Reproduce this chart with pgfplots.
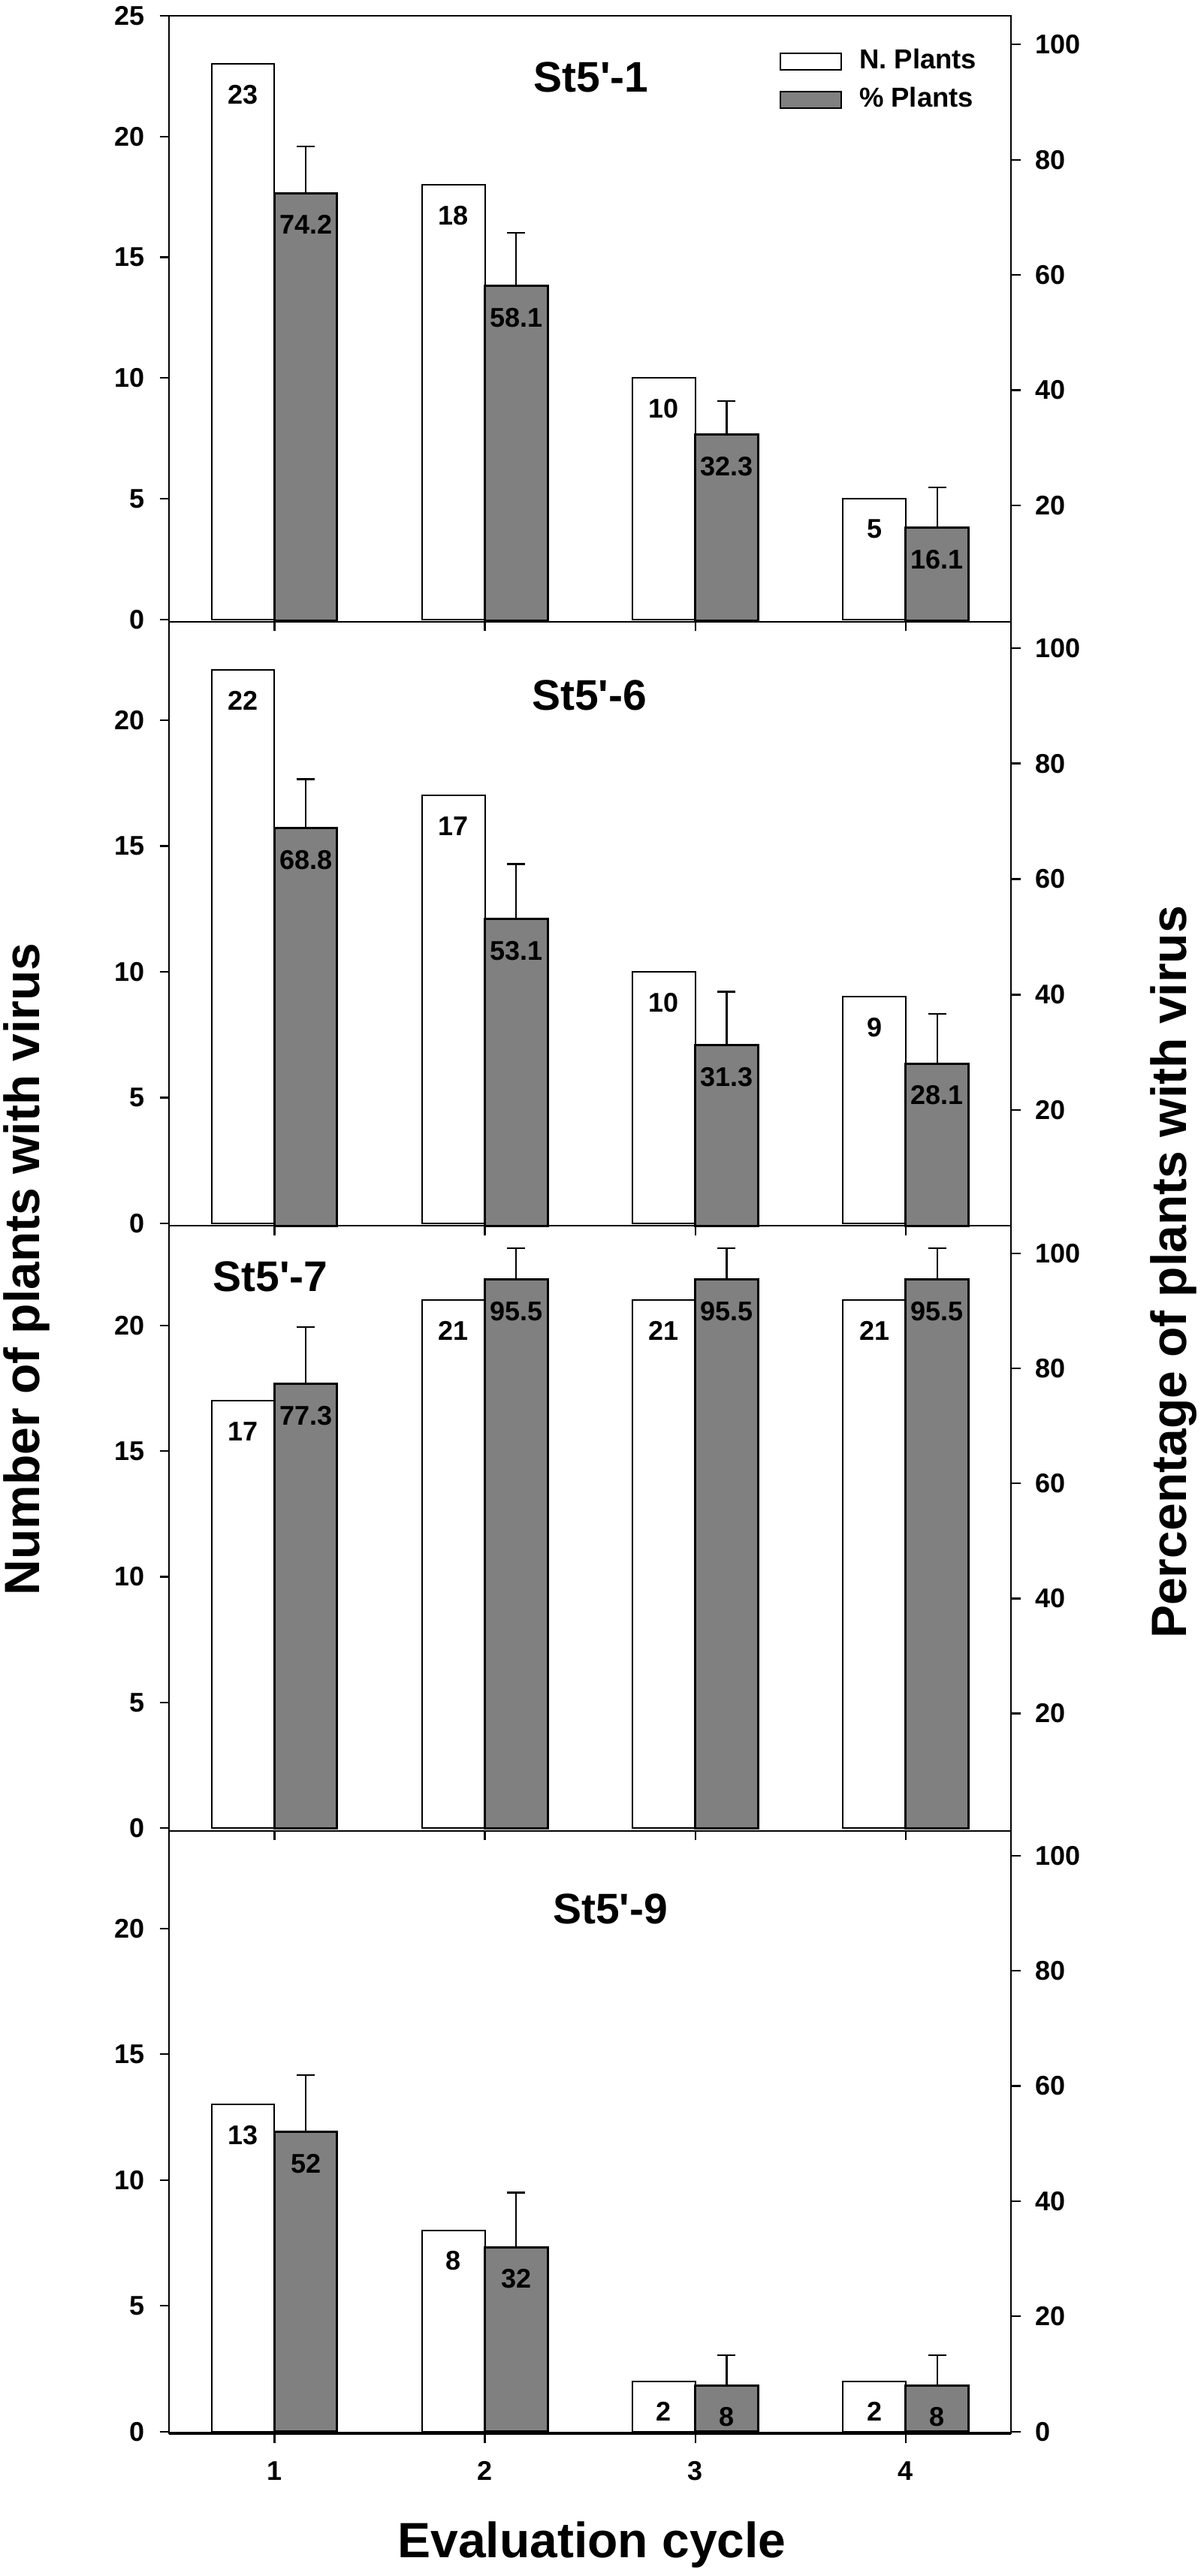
\documentclass[border=0pt]{standalone}
\usepackage{fontspec}
\setmainfont{Liberation Sans}
\usepackage{pgfplots}
\pgfplotsset{compat=1.18}
\usepackage{pgfplotstable}

% xw, xg: centres of the white and grey bars (tick at x)
\pgfplotstableread{
x xw xg n p e
1 0.851 1.149 23 74.2 8.1
2 1.851 2.149 18 58.1 9.2
3 2.851 3.149 10 32.3 5.8
4 3.851 4.149 5 16.1 7.0
}\tabA
\pgfplotstableread{
x xw xg n p e
1 0.851 1.149 22 68.8 8.5
2 1.851 2.149 17 53.1 9.5
3 2.851 3.149 10 31.3 9.2
4 3.851 4.149 9 28.1 8.6
}\tabB
\pgfplotstableread{
x xw xg n p e
1 0.851 1.149 17 77.3 9.9
2 1.851 2.149 21 95.5 5.4
3 2.851 3.149 21 95.5 5.4
4 3.851 4.149 21 95.5 5.4
}\tabC
\pgfplotstableread{
x xw xg n p e
1 0.851 1.149 13 52 9.9
2 1.851 2.149 8 32 9.5
3 2.851 3.149 2 8 5.3
4 3.851 4.149 2 8 5.3
}\tabD

\newcommand{\smallf}{\fontsize{7.2}{8.5}\selectfont\bfseries}
\newcommand{\titlef}{\fontsize{11.4}{13}\selectfont\bfseries}
\newcommand{\labf}{\fontsize{13.2}{15}\selectfont\bfseries}

\pgfplotsset{
  base/.style={
    scale only axis, width=224.14pt,
    xmin=0.5, xmax=4.5, xtick={1,2,3,4},
    tick align=outside, major tick length=2.5pt,
    tick style={black, line width=0.45pt},
    axis line style={line width=0.45pt},
    /pgf/number format/assume math mode=true,
    ticklabel style={font=\smallf, inner sep=0pt},
    clip=false,
  },
  leftax/.style={base, xtick pos=left, ytick pos=left,
    yticklabel style={anchor=east, xshift=-3.9pt},
    xticklabel style={anchor=north, yshift=-4.84pt}},
  rightax/.style={base, axis y line*=right, axis x line=none,
    yticklabel style={anchor=west, xshift=3.8pt}},
  whitebar/.style={ybar, bar width=16.7pt, bar shift=0pt, fill=white, draw=black,
    line width=0.4pt, nodes near coords,
    every node near coord/.append style={anchor=north, yshift=-5.4pt, inner sep=0pt, font=\smallf}},
  graybar/.style={ybar, bar width=16.7pt, bar shift=0pt, fill=gray, draw=black,
    line width=0.6pt, nodes near coords,
    every node near coord/.append style={anchor=north, yshift=-5.6pt, inner sep=0pt, font=\smallf},
    error bars/.cd, y dir=plus, y explicit,
    error bar style={line width=0.45pt, black},
    error mark=-,
    error mark options={black, line width=0.45pt, mark size=2.4pt, rotate=90}},
}

\begin{document}
\begin{tikzpicture}
\path[use as bounding box] (0,0) rectangle (319.6pt,686pt);

% ---------- Panel 1 ----------
\begin{axis}[leftax, at={(45.06pt,520.46pt)}, height=161.34pt,
  ymin=-0.085, ymax=25, ytick={0,5,10,15,20,25}, xticklabels={}]
\addplot[whitebar] table[x=xw,y=n]{\tabA};
\node[font=\titlef] at (rel axis cs:0.501,0.898) {St5\textquotesingle-1};
\end{axis}
\begin{axis}[rightax, at={(45.06pt,520.46pt)}, height=161.34pt,
  ymin=-0.2, ymax=105, ytick={20,40,60,80,100},
  legend style={at={(0.7252,0.9455)}, anchor=north west, draw=none, fill=none,
    inner sep=0pt, outer sep=0pt, row sep=3.4pt, column sep=4.6pt,
    font=\fontsize{7.3}{8.5}\selectfont\bfseries, nodes={inner sep=0pt}},
  legend cell align=left]
\addlegendimage{legend image code/.code={\draw[fill=white,draw=black,line width=0.4pt] (0pt,-2.2pt) rectangle (16.2pt,2.2pt);}}
\addlegendimage{legend image code/.code={\draw[fill=gray,draw=black,line width=0.4pt] (0pt,-2.2pt) rectangle (16.2pt,2.2pt);}}
\addplot[graybar] table[x=xg,y=p,y error=e]{\tabA};
\legend{N. Plants, \% Plants}
\end{axis}

% ---------- Panel 2 ----------
\begin{axis}[leftax, at={(45.06pt,359.54pt)}, height=160.92pt,
  ymin=-0.0985, ymax=23.92, ytick={0,5,10,15,20}, xticklabels={}]
\addplot[whitebar] table[x=xw,y=n]{\tabB};
\node[font=\titlef] at (rel axis cs:0.499,0.8785) {St5\textquotesingle-6};
\end{axis}
\begin{axis}[rightax, at={(45.06pt,359.54pt)}, height=160.92pt,
  ymin=0, ymax=104.55, ytick={20,40,60,80,100}]
\addplot[graybar] table[x=xg,y=p,y error=e]{\tabB};
\end{axis}

% ---------- Panel 3 ----------
\begin{axis}[leftax, at={(45.06pt,198.46pt)}, height=161.08pt,
  ymin=-0.1, ymax=23.96, ytick={0,5,10,15,20}, xticklabels={}]
\addplot[whitebar] table[x=xw,y=n]{\tabC};
\node[font=\titlef] at (rel axis cs:0.120,0.916) {St5\textquotesingle-7};
\end{axis}
\begin{axis}[rightax, at={(45.06pt,198.46pt)}, height=161.08pt,
  ymin=-0.4, ymax=104.8, ytick={20,40,60,80,100}]
\addplot[graybar] table[x=xg,y=p,y error=e]{\tabC};
\end{axis}

% ---------- Panel 4 ----------
\begin{axis}[leftax, at={(45.06pt,38pt)}, height=160.46pt,
  ymin=-0.07, ymax=23.88, ytick={0,5,10,15,20}]
\addplot[whitebar] table[x=xw,y=n]{\tabD};
\node[font=\titlef] at (rel axis cs:0.524,0.870) {St5\textquotesingle-9};
\draw[line width=0.8pt] (rel axis cs:0,0) -- (rel axis cs:1,0);
\end{axis}
\begin{axis}[rightax, at={(45.06pt,38pt)}, height=160.46pt,
  ymin=-0.3, ymax=104.3, ytick={0,20,40,60,80,100}]
\addplot[graybar] table[x=xg,y=p,y error=e]{\tabD};
\end{axis}

% ---------- axis titles ----------
\node[rotate=90, anchor=base, font=\labf] at (10.6pt,348pt) {Number of plants with virus};
\node[rotate=90, anchor=base, font=\labf] at (315.8pt,347.2pt) {Percentage of plants with virus};
\node[anchor=base, font=\labf] at (157.6pt,5pt) {Evaluation cycle};
\end{tikzpicture}
\end{document}
